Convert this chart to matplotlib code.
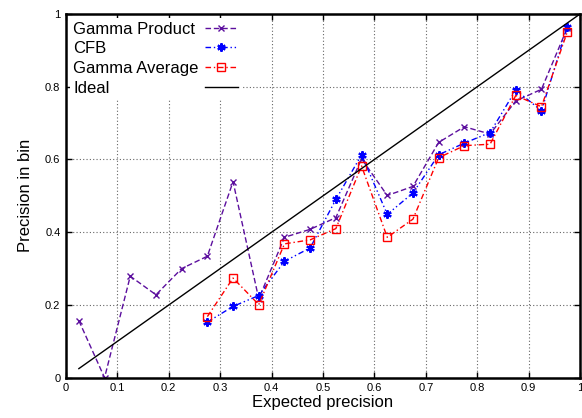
import numpy as np
import matplotlib
matplotlib.use("Agg")
import matplotlib.pyplot as plt
from matplotlib.lines import Line2D

plt.rcParams['font.family'] = ['Liberation Sans', 'DejaVu Sans']

# bin centres
x_prod = [0.025, 0.075, 0.125, 0.175, 0.225, 0.275, 0.325, 0.375, 0.425, 0.475,
          0.525, 0.575, 0.625, 0.675, 0.725, 0.775, 0.825, 0.875, 0.925, 0.975]
gamma_product = [0.157, 0.0, 0.279, 0.228, 0.300, 0.334, 0.539, 0.217, 0.386, 0.408,
                 0.440, 0.602, 0.501, 0.526, 0.647, 0.690, 0.670, 0.761, 0.793, 0.961]

x_rest = [0.275, 0.325, 0.375, 0.425, 0.475, 0.525, 0.575, 0.625, 0.675, 0.725,
          0.775, 0.825, 0.875, 0.925, 0.975]
cfb = [0.153, 0.196, 0.226, 0.320, 0.357, 0.490, 0.613, 0.449, 0.508, 0.613,
       0.645, 0.674, 0.791, 0.734, 0.963]
gamma_average = [0.168, 0.274, 0.201, 0.368, 0.379, 0.410, 0.582, 0.386, 0.436, 0.605,
                 0.638, 0.642, 0.776, 0.745, 0.950]

ideal_x = [0.025, 1.0]
ideal_y = [0.025, 1.0]

labels = ['Gamma Product', 'CFB', 'Gamma Average', 'Ideal']

fig = plt.figure(figsize=(5.82, 4.18), dpi=100)
ax = fig.add_axes([0.1134, 0.0964, 0.8832, 0.8701])

l1, = ax.plot(x_prod, gamma_product, color='#5c0f9e', linestyle=(0, (4, 2)), linewidth=1.0,
              marker='x', markersize=5, markeredgewidth=1.0)
l2, = ax.plot(x_rest, cfb, color='#0000ff', linestyle=(0, (4, 2, 1, 2, 1, 2)), linewidth=1.0,
              marker=(6, 2, 0), markersize=6, markeredgewidth=1.5)
l3, = ax.plot(x_rest, gamma_average, color='#ff0000', linestyle=(0, (4, 2, 1, 2)), linewidth=1.0,
              marker='s', markersize=5.5, markerfacecolor='none', markeredgewidth=1.0)
l4, = ax.plot(ideal_x, ideal_y, color='black', linewidth=1.0)

ax.set_xlim(0, 1)
ax.set_ylim(0, 1)
ax.set_xticks(np.arange(0, 1.01, 0.1))
ax.set_yticks(np.arange(0, 1.01, 0.2))
ax.set_xticklabels(['0', '0.1', '0.2', '0.3', '0.4', '0.5', '0.6', '0.7', '0.8', '0.9', '1'])
ax.set_yticklabels(['0', '0.2', '0.4', '0.6', '0.8', '1'])
ax.tick_params(direction='in', length=4, width=1, labelsize=8, top=True, right=True, pad=4)
ax.grid(True, color='#666666', linestyle=(0, (1, 2)), linewidth=0.8)
for s in ax.spines.values():
    s.set_linewidth(1.8)

ax.set_xlabel('Expected precision', fontsize=12, labelpad=1)
ax.set_ylabel('Precision in bin', fontsize=12, labelpad=9)

# gnuplot style key: text left-aligned, samples in a column on the right
leg_opts = dict(loc='upper left', fontsize=12, labelspacing=0.28,
                borderaxespad=0.25, borderpad=0.2)
samples = ax.legend([l1, l2, l3, l4], labels, markerfirst=False,
                    handlelength=2.0, handletextpad=0.35, frameon=True, fancybox=False,
                    framealpha=1, facecolor='white', edgecolor='none', **leg_opts)
for t in samples.get_texts():
    t.set_alpha(0)
ax.add_artist(samples)
blank = [Line2D([], [], linestyle='none') for _ in labels]
ax.legend(blank, labels, handlelength=0, handletextpad=0, frameon=False, **leg_opts)

fig.savefig('out.png', dpi=100)
